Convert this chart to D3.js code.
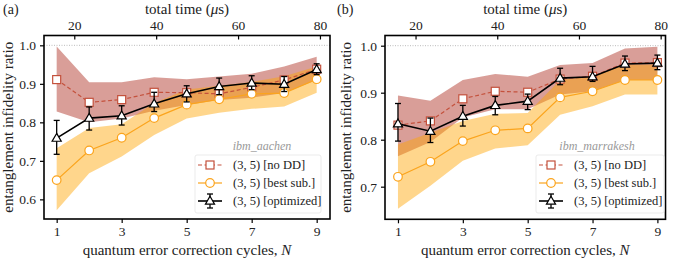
<!DOCTYPE html>
<html><head><meta charset="utf-8">
<script src="https://cdn.jsdelivr.net/npm/d3@7"></script>
<style>
body{margin:0;background:#fff;}
svg text{font-family:"Liberation Serif","Times New Roman",serif !important;}
</style></head>
<body><svg id="c" width="674" height="261"></svg>
<script>
// ---------- data ----------
const cycles = [1,2,3,4,5,6,7,8,9];
const totalTimeUs = [15.7,23.6,31.6,39.5,47.5,55.4,63.3,71.3,79.2];
const timeTicks = [20,40,60,80];
const cycleTicks = [1,3,5,7,9];
const yTicksA = [0.6,0.7,0.8,0.9,1.0];
const yTicksB = [0.7,0.8,0.9,1.0];
const seriesNames = ["(3, 5) [no DD]","(3, 5) [best sub.]","(3, 5) [optimized]"];

// panel (a) ibm_aachen
const noDD_a   = [0.911,0.852,0.859,0.878,0.877,0.874,0.891,0.910,0.938];
const noDDlo_a = [0.828,0.800,0.810,0.830,0.845,0.858,0.864,0.876,0.910];
const noDDhi_a = [0.997,0.904,0.904,0.917,0.912,0.919,0.926,0.945,0.970];
const best_a   = [0.650,0.727,0.760,0.811,0.846,0.860,0.874,0.876,0.912];
const bestLo_a = [0.572,0.668,0.711,0.767,0.810,0.825,0.835,0.841,0.877];
const bestHi_a = [0.733,0.785,0.795,0.850,0.885,0.895,0.905,0.920,0.945];
const opt_a    = [0.759,0.811,0.817,0.848,0.874,0.893,0.902,0.899,0.937];
const optLo_a  = [0.717,0.780,0.793,0.828,0.853,0.872,0.885,0.880,0.924];
const optHi_a  = [0.805,0.840,0.843,0.878,0.895,0.915,0.921,0.919,0.952];

// panel (b) ibm_marrakesh
const noDD_b   = [0.831,0.840,0.887,0.903,0.901,0.929,0.935,0.963,0.964];
const noDDlo_b = [0.765,0.795,0.847,0.865,0.865,0.896,0.903,0.927,0.927];
const noDDhi_b = [0.894,0.883,0.927,0.940,0.934,0.959,0.963,0.994,0.998];
const best_b   = [0.721,0.753,0.797,0.820,0.824,0.890,0.903,0.927,0.927];
const bestLo_b = [0.653,0.702,0.755,0.781,0.788,0.853,0.871,0.896,0.896];
const bestHi_b = [0.790,0.815,0.840,0.855,0.857,0.927,0.935,0.960,0.960];
const opt_b    = [0.834,0.818,0.850,0.873,0.882,0.931,0.934,0.961,0.963];
const optLo_b  = [0.797,0.794,0.829,0.853,0.864,0.917,0.924,0.947,0.949];
const optHi_b  = [0.877,0.846,0.873,0.892,0.897,0.952,0.956,0.978,0.980];

// ---------- style ----------
const RED = "#c4513c", RED_BAND = "rgba(180,62,50,0.5)";
const ORANGE = "#fba41d", ORANGE_BAND = "rgba(255,165,0,0.45)";
const svg = d3.select("#c");

function panel(o){
  const g = svg.append("g");
  const x = d3.scaleLinear().domain(o.xDom).range([o.L,o.R]);
  const y = d3.scaleLinear().domain(o.yDom).range([o.B,o.T]);
  const tx = d3.scaleLinear()
    .domain([totalTimeUs[0], totalTimeUs[totalTimeUs.length-1]])
    .range([x(cycles[0]), x(cycles[cycles.length-1])]);

  g.append("line").attr("x1",o.L).attr("x2",o.R).attr("y1",y(1)).attr("y2",y(1))
    .attr("stroke","#bbb").attr("stroke-width",1).attr("stroke-dasharray","1,1.5");

  const idx = d3.range(cycles.length);
  const area = (lo,hi)=>d3.area().x(i=>x(cycles[i])).y0(i=>y(lo[i])).y1(i=>y(hi[i]))(idx);
  g.append("path").attr("d",area(o.noDDlo,o.noDDhi)).attr("fill",RED_BAND);
  g.append("path").attr("d",area(o.bestLo,o.bestHi)).attr("fill",ORANGE_BAND);

  const line = v=>d3.line().x(i=>x(cycles[i])).y(i=>y(v[i]))(idx);
  g.append("path").attr("d",line(o.noDD)).attr("fill","none").attr("stroke",RED)
    .attr("stroke-width",1.2).attr("stroke-dasharray","4,2.5");
  g.selectAll(null).data(idx).enter().append("rect")
    .attr("x",i=>x(cycles[i])-4).attr("y",i=>y(o.noDD[i])-4).attr("width",8).attr("height",8)
    .attr("fill","#fff").attr("stroke",RED).attr("stroke-width",1.2);
  g.append("path").attr("d",line(o.best)).attr("fill","none").attr("stroke",ORANGE).attr("stroke-width",1.2);
  g.selectAll(null).data(idx).enter().append("circle")
    .attr("cx",i=>x(cycles[i])).attr("cy",i=>y(o.best[i])).attr("r",4.3)
    .attr("fill","#fff").attr("stroke",ORANGE).attr("stroke-width",1.2);
  g.append("path").attr("d",line(o.opt)).attr("fill","none").attr("stroke","#000").attr("stroke-width",1.6);
  const eb = g.selectAll(null).data(idx).enter().append("g");
  eb.append("line").attr("x1",i=>x(cycles[i])).attr("x2",i=>x(cycles[i]))
    .attr("y1",i=>y(o.optLo[i])).attr("y2",i=>y(o.optHi[i])).attr("stroke","#000").attr("stroke-width",1.3);
  [o.optLo,o.optHi].forEach(arr=>{
    eb.append("line").attr("x1",i=>x(cycles[i])-3).attr("x2",i=>x(cycles[i])+3)
      .attr("y1",i=>y(arr[i])).attr("y2",i=>y(arr[i])).attr("stroke","#000").attr("stroke-width",1.3);
  });
  const tri = d3.symbol().type(d3.symbolTriangle).size(36);
  eb.append("path").attr("d",tri).attr("transform",i=>`translate(${x(cycles[i])},${y(o.opt[i])+0.5})`)
    .attr("fill","#fff").attr("stroke","#000").attr("stroke-width",1.2);

  // axes
  const fs = "13.5px";
  const ax = g.append("g").attr("transform",`translate(0,${o.B})`)
    .call(d3.axisBottom(x).tickValues(cycleTicks).tickSize(4).tickPadding(3).tickFormat(d3.format("d")));
  const ay = g.append("g").attr("transform",`translate(${o.L},0)`)
    .call(d3.axisLeft(y).tickValues(o.yTicks).tickSize(4).tickPadding(4).tickFormat(d3.format(".1f")));
  const at = g.append("g").attr("transform",`translate(0,${o.T})`)
    .call(d3.axisTop(tx).tickValues(timeTicks).tickSize(-4).tickPadding(5.5).tickFormat(d3.format("d")));
  [ax,ay,at].forEach(a=>{
    a.attr("font-family",null);
    a.select(".domain").remove();
    a.selectAll("text").attr("font-size",fs).attr("fill","#222");
    a.selectAll("line").attr("stroke","#000").attr("stroke-width",1.2);
  });
  g.append("rect").attr("x",o.L).attr("y",o.T).attr("width",o.R-o.L).attr("height",o.B-o.T)
    .attr("fill","none").attr("stroke","#000").attr("stroke-width",1.6);

  g.append("text").attr("x",(o.L+o.R)/2).attr("y",255).attr("text-anchor","middle")
    .attr("font-size","15px").attr("fill","#222")
    .html('quantum error correction cycles, <tspan font-style="italic">N</tspan>');
  g.append("text").attr("x",(o.L+o.R)/2).attr("y",14).attr("text-anchor","middle")
    .attr("font-size","15px").attr("fill","#222")
    .html('total time (<tspan font-style="italic">μ</tspan>s)');
  g.append("text").attr("transform",`translate(${o.ylx},${(o.T+o.B)/2}) rotate(-90)`)
    .attr("text-anchor","middle").attr("font-size","15px").attr("fill","#222")
    .text("entanglement infidelity ratio");
  g.append("text").attr("x",o.panelX).attr("y",14).attr("font-size","14px").attr("fill","#222").text(o.tag);

  // legend
  const lg = g.append("g");
  lg.append("text").attr("x",o.legTitleX).attr("y",150).attr("text-anchor","middle")
    .attr("font-size","12px").attr("font-style","italic").attr("fill","#999").text(o.device);
  lg.append("rect").attr("x",o.legX).attr("y",155).attr("width",o.legW).attr("height",58).attr("rx",2)
    .attr("fill","rgba(255,255,255,0.85)").attr("stroke","#e6e6e6").attr("stroke-width",0.8);
  const rows = [165,183,201];
  const mx = o.legX+15;
  rows.forEach((ry,k)=>{
    const col = k===0?RED:k===1?ORANGE:"#000";
    lg.append("line").attr("x1",mx-12).attr("x2",mx+12).attr("y1",ry).attr("y2",ry)
      .attr("stroke",col).attr("stroke-width",k===2?1.6:1.2).attr("stroke-dasharray",k===0?"4,2.5":null);
    if(k===0) lg.append("rect").attr("x",mx-4).attr("y",ry-4).attr("width",8).attr("height",8)
      .attr("fill","#fff").attr("stroke",RED).attr("stroke-width",1.2);
    if(k===1) lg.append("circle").attr("cx",mx).attr("cy",ry).attr("r",4.3)
      .attr("fill","#fff").attr("stroke",ORANGE).attr("stroke-width",1.2);
    if(k===2){
      lg.append("line").attr("x1",mx).attr("x2",mx).attr("y1",ry-7).attr("y2",ry+7).attr("stroke","#000").attr("stroke-width",1.3);
      [ry-7,ry+7].forEach(cy=>lg.append("line").attr("x1",mx-3).attr("x2",mx+3).attr("y1",cy).attr("y2",cy).attr("stroke","#000").attr("stroke-width",1.3));
      lg.append("path").attr("d",tri).attr("transform",`translate(${mx},${ry+0.5})`)
        .attr("fill","#fff").attr("stroke","#000").attr("stroke-width",1.2);
    }
    lg.append("text").attr("x",mx+23).attr("y",ry+4).attr("font-size","12.5px").attr("fill","#222").text(seriesNames[k]);
  });
}

panel({L:44,R:330,T:35.5,B:219,xDom:[0.61,9.41],yDom:[0.549,1.0255],yTicks:yTicksA,
  noDD:noDD_a,noDDlo:noDDlo_a,noDDhi:noDDhi_a,best:best_a,bestLo:bestLo_a,bestHi:bestHi_a,
  opt:opt_a,optLo:optLo_a,optHi:optHi_a,ylx:13,panelX:3,tag:"(a)",device:"ibm_aachen",
  legX:195,legW:126,legTitleX:262});
panel({L:385,R:665.5,T:35.5,B:219.3,xDom:[0.6,9.25],yDom:[0.6306,1.0217],yTicks:yTicksB,
  noDD:noDD_b,noDDlo:noDDlo_b,noDDhi:noDDhi_b,best:best_b,bestLo:bestLo_b,bestHi:bestHi_b,
  opt:opt_b,optLo:optLo_b,optHi:optHi_b,ylx:351,panelX:337,tag:"(b)",device:"ibm_marrakesh",
  legX:536,legW:128,legTitleX:597});
</script></body></html>
